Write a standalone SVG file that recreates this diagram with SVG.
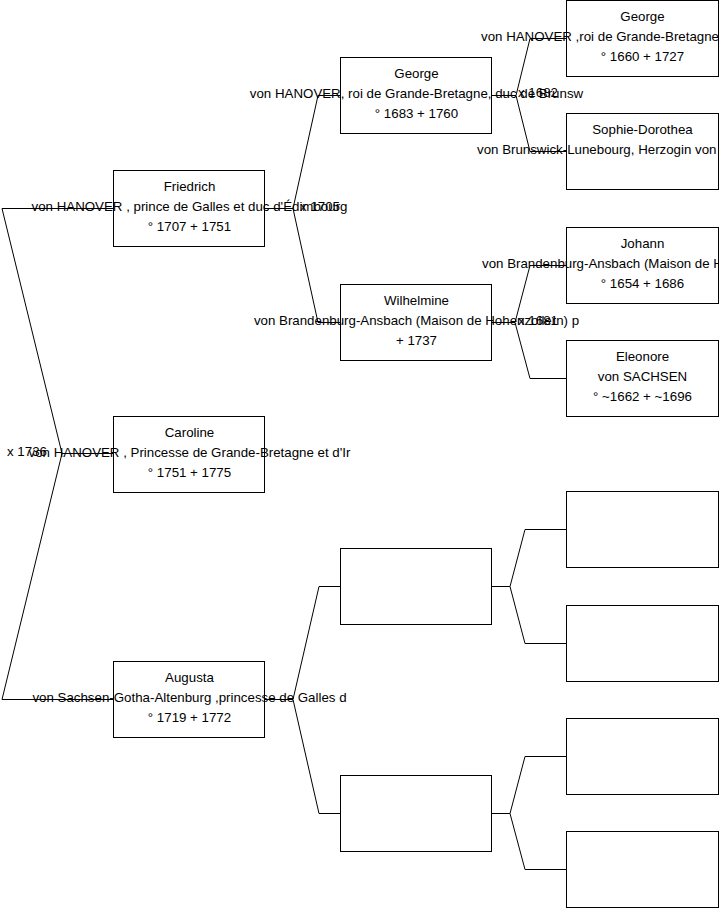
<svg xmlns="http://www.w3.org/2000/svg" width="719" height="908" viewBox="0 0 719 908">
<style>
  .box { fill: #fff; stroke: #000; stroke-width: 1; }
  .t { font-family: "Liberation Sans", Arial, sans-serif; font-size: 13.3px; fill: #000; text-anchor: middle; }
  .ts { font-family: "Liberation Sans", Arial, sans-serif; font-size: 13.3px; fill: #000; text-anchor: start; }
  .c { fill: none; stroke: #000; stroke-width: 1; }
</style>
<rect width="719" height="908" fill="#fff"/>

<g id="nodes">
  <g id="friedrich">
    <rect class="box" x="113.5" y="170.5" width="151" height="76"/>
    <text class="t" x="189.5" y="190.5">Friedrich</text>
    <text class="t" x="189.5" y="210.5">von HANOVER , prince de Galles et duc d'Édimbourg</text>
    <text class="t" x="189.5" y="230.5">° 1707 + 1751</text>
  </g>
  <g id="caroline">
    <rect class="box" x="113.5" y="416.5" width="151" height="76"/>
    <text class="t" x="189.5" y="436.5">Caroline</text>
    <text class="t" x="189.5" y="456.5">von HANOVER , Princesse de Grande-Bretagne et d'Ir</text>
    <text class="t" x="189.5" y="476.5">° 1751 + 1775</text>
  </g>
  <g id="augusta">
    <rect class="box" x="113.5" y="661.5" width="151" height="76"/>
    <text class="t" x="189.5" y="681.5">Augusta</text>
    <text class="t" x="189.5" y="701.5">von Sachsen-Gotha-Altenburg ,princesse de Galles d</text>
    <text class="t" x="189.5" y="721.5">° 1719 + 1772</text>
  </g>
  <g id="george2">
    <rect class="box" x="340.5" y="57.5" width="151" height="76"/>
    <text class="t" x="416.5" y="77.5">George</text>
    <text class="t" x="416.5" y="97.5">von HANOVER, roi de Grande-Bretagne, duc de Brunsw</text>
    <text class="t" x="416.5" y="117.5">° 1683 + 1760</text>
  </g>
  <g id="wilhelmine">
    <rect class="box" x="340.5" y="284.5" width="151" height="76"/>
    <text class="t" x="416.5" y="304.5">Wilhelmine</text>
    <text class="t" x="416.5" y="324.5">von Brandenburg-Ansbach (Maison de Hohenzollern) p</text>
    <text class="t" x="416.5" y="344.5">+ 1737</text>
  </g>
  <g id="empty3a"><rect class="box" x="340.5" y="548.5" width="151" height="76"/></g>
  <g id="empty3b"><rect class="box" x="340.5" y="775.5" width="151" height="76"/></g>

  <g id="george1">
    <rect class="box" x="566.5" y="0.5" width="152" height="76"/>
    <text class="t" x="642.5" y="20.5">George</text>
    <text class="ts" x="481" y="40.5">von HANOVER ,roi de Grande-Bretagne</text>
    <text class="t" x="642.5" y="60.5">° 1660 + 1727</text>
  </g>
  <g id="sophie">
    <rect class="box" x="566.5" y="113.5" width="152" height="76"/>
    <text class="t" x="642.5" y="133.5">Sophie-Dorothea</text>
    <text class="ts" x="477" y="153.5">von Brunswick-Lunebourg, Herzogin von</text>
  </g>
  <g id="johann">
    <rect class="box" x="566.5" y="227.5" width="152" height="76"/>
    <text class="t" x="642.5" y="247.5">Johann</text>
    <text class="ts" x="482" y="267.5">von Brandenburg-Ansbach (Maison de H</text>
    <text class="t" x="642.5" y="287.5">° 1654 + 1686</text>
  </g>
  <g id="eleonore">
    <rect class="box" x="566.5" y="340.5" width="152" height="76"/>
    <text class="t" x="642.5" y="360.5">Eleonore</text>
    <text class="t" x="642.5" y="380.5">von SACHSEN</text>
    <text class="t" x="642.5" y="400.5">° ~1662 + ~1696</text>
  </g>
  <g id="empty4a"><rect class="box" x="566.5" y="491.5" width="152" height="76"/></g>
  <g id="empty4b"><rect class="box" x="566.5" y="605.5" width="152" height="76"/></g>
  <g id="empty4c"><rect class="box" x="566.5" y="718.5" width="152" height="76"/></g>
  <g id="empty4d"><rect class="box" x="566.5" y="831.5" width="152" height="76"/></g>
</g>

<g id="connectors">
  <path class="c" d="M114 208.5 H2 L62 453.5 L2 699.5 H114 M62 453.5 H114"/>
  <path class="c" d="M265 208.5 H293 L318 95.5 H341 M293 208.5 L318 322.5 H341"/>
  <path class="c" d="M265 699.5 H293 L319 586.5 H341 M293 699.5 L319 813.5 H341"/>
  <path class="c" d="M492 95.5 H516 L530 38.5 H567 M516 95.5 L530 151.5 H567"/>
  <path class="c" d="M492 322.5 H515 L530 265.5 H567 M515 322.5 L530 378.5 H567"/>
  <path class="c" d="M492 586.5 H510 L525 529.5 H567 M510 586.5 L525 643.5 H567"/>
  <path class="c" d="M492 813.5 H510 L525 756.5 H567 M510 813.5 L525 869.5 H567"/>
  <text class="ts" x="7" y="455.5">x 1736</text>
  <text class="ts" x="300" y="210.5">x 1705</text>
  <text class="ts" x="518" y="96.5">x 1682</text>
  <text class="ts" x="518" y="324.5">x 1681</text>
</g>
</svg>
